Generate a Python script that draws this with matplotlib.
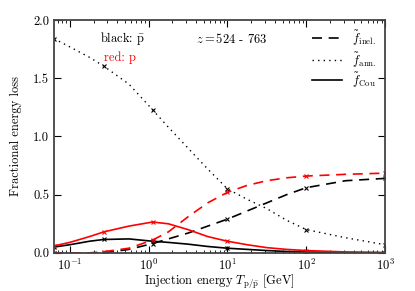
import numpy as np
import matplotlib
matplotlib.use("Agg")
import matplotlib.pyplot as plt

plt.rcParams['font.family'] = 'serif'
plt.rcParams['font.serif'] = ['cmr10', 'DejaVu Serif']
plt.rcParams['mathtext.fontset'] = 'cm'
plt.rcParams['axes.unicode_minus'] = False
plt.rcParams['axes.formatter.use_mathtext'] = True

# log10 of injection energy [GeV]
logT = [-1.2, -1.0, -0.75, -0.57, -0.25, 0.05, 0.25, 0.5, 0.75, 1.0,
        1.25, 1.5, 1.75, 2.0, 2.5, 3.0]
# indices of the points that carry an 'x' marker
mark_idx = [0, 3, 5, 9, 13, 15]

# antiprotons (black)
ann_pbar = [1.84, 1.77, 1.68, 1.605, 1.45, 1.23, 1.08, 0.90, 0.72, 0.55,
            0.46, 0.38, 0.28, 0.20, 0.13, 0.07]
inel_pbar = [0.0, 0.0, 0.0, 0.0, 0.03, 0.08, 0.12, 0.17, 0.23, 0.29,
             0.36, 0.43, 0.50, 0.56, 0.62, 0.64]
cou_pbar = [0.05, 0.07, 0.10, 0.115, 0.12, 0.10, 0.09, 0.075, 0.055, 0.04,
            0.03, 0.02, 0.012, 0.007, 0.003, 0.001]

# protons (red)
inel_p = [0.0, 0.0, 0.0, 0.01, 0.04, 0.11, 0.18, 0.31, 0.43, 0.52,
          0.58, 0.62, 0.645, 0.66, 0.675, 0.685]
cou_p = [0.06, 0.09, 0.14, 0.18, 0.23, 0.265, 0.25, 0.20, 0.14, 0.10,
         0.07, 0.045, 0.03, 0.02, 0.008, 0.003]

T = 10.0 ** np.array(logT)

fig = plt.figure(figsize=(4.15, 2.91), dpi=100)
ax = fig.add_axes([0.130, 0.131, 0.798, 0.800])

mk = dict(marker='x', markersize=3.5, markevery=mark_idx, markeredgewidth=0.8)

ax.plot(T, inel_pbar, color='black', lw=1.2, dashes=(6, 4), **mk)
ax.plot(T, ann_pbar, color='black', lw=1.0, dashes=(1, 3), **mk)
ax.plot(T, cou_pbar, color='black', lw=1.2, **mk)
ax.plot(T, inel_p, color='red', lw=1.2, dashes=(6, 4), **mk)
ax.plot(T, cou_p, color='red', lw=1.2, **mk)

ax.set_xscale('log')
ax.set_xlim(0.063, 1000)
ax.set_ylim(0, 2.0)
ax.set_yticks([0.0, 0.5, 1.0, 1.5, 2.0])
ax.set_yticklabels(['0.0', '0.5', '1.0', '1.5', '2.0'])

ax.tick_params(which='both', direction='in', top=True, right=True, labelsize=9)
ax.tick_params(which='major', length=5, width=0.8)
ax.tick_params(which='minor', length=2.5, width=0.6)
for s in ax.spines.values():
    s.set_linewidth(1.3)
    s.set_color('#444444')

ax.set_xlabel(r'Injection energy $T_{\rm p/\bar{p}}$ [GeV]', fontsize=9, labelpad=0)
ax.set_ylabel('Fractional energy loss', fontsize=9, labelpad=8)

ax.text(0.14, 0.92, r'black: $\rm\bar{p}$', transform=ax.transAxes, fontsize=9, va='center')
ax.text(0.15, 0.84, 'red: p', transform=ax.transAxes, fontsize=9, color='red', va='center')
ax.text(0.43, 0.92, r'$z=$524 - 763', transform=ax.transAxes, fontsize=9, va='center')

# legend
lx = [0.78, 0.87]
leg = [((6, 4), 1.2, 0.923, r'$\tilde{f}_{\rm inel.}$'),
       ((1, 3), 1.0, 0.828, r'$\tilde{f}_{\rm ann.}$'),
       (None, 1.2, 0.742, r'$\tilde{f}_{\rm Cou}$')]
for d, w, yy, lab in leg:
    kw = {} if d is None else {'dashes': d}
    ax.plot(lx, [yy, yy], transform=ax.transAxes, color='black', lw=w, **kw)
    ax.text(0.9, yy, lab, transform=ax.transAxes, fontsize=9, va='center')

fig.savefig('out.png', dpi=100)
